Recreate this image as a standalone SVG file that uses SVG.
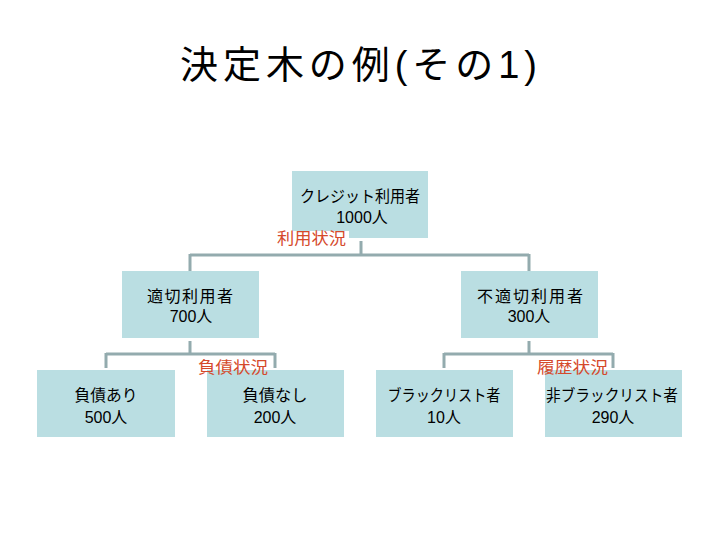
<svg xmlns="http://www.w3.org/2000/svg" width="720" height="540" viewBox="0 0 720 540">
<style>
text{font-family:"Liberation Sans","Noto Sans CJK JP",sans-serif;fill:#000}
.box{fill:#BADEE2}
.t{font-size:16px;text-anchor:middle}
.lbl{font-size:16px;fill:#D5492B}
.title{font-size:38px}
.c{fill:none;stroke:#93ABAE;stroke-width:3}
</style>
<rect width="720" height="540" fill="#fff"/>
<text class="title" x="180" y="78" textLength="357" lengthAdjust="spacing">決定木の例(その1)</text>
<g id="connectors">
<path class="c" d="M361 241V255M190 255H529M190 254V271M529 254V271"/>
<path class="c" d="M190 341V354M106 354H275M106 353V368M275 353V368"/>
<path class="c" d="M529 341V354M444 354H613M444 353V368M613 353V368"/>
</g>
<g id="n-root">
<rect class="box" x="292" y="171" width="136" height="67"/>
<text class="t" x="360" y="202" textLength="120" lengthAdjust="spacingAndGlyphs">クレジット利用者</text>
<text class="t" x="362" y="223">1000人</text>
</g>
<g id="l-root">
<rect x="275" y="231" width="74" height="16" fill="#fff"/>
<text class="lbl" x="277" y="244" textLength="69" lengthAdjust="spacingAndGlyphs">利用状況</text>
</g>
<g id="n-good">
<rect class="box" x="122" y="271" width="137" height="67"/>
<text class="t" x="190" y="302" textLength="86" lengthAdjust="spacing">適切利用者</text>
<text class="t" x="191" y="322">700人</text>
</g>
<g id="n-bad">
<rect class="box" x="461" y="271" width="137" height="67"/>
<text class="t" x="530" y="302" textLength="106" lengthAdjust="spacing">不適切利用者</text>
<text class="t" x="529" y="322">300人</text>
</g>
<g id="n-debt">
<rect class="box" x="37" y="370" width="138" height="67"/>
<text class="t" x="106" y="401" textLength="63" lengthAdjust="spacingAndGlyphs">負債あり</text>
<text class="t" x="106" y="423">500人</text>
</g>
<g id="n-nodebt">
<rect class="box" x="207" y="370" width="137" height="67"/>
<text class="t" x="275" y="401" textLength="65" lengthAdjust="spacingAndGlyphs">負債なし</text>
<text class="t" x="275" y="423">200人</text>
</g>
<g id="n-black">
<rect class="box" x="376" y="370" width="137" height="67"/>
<text class="t" x="444" y="401" textLength="113" lengthAdjust="spacingAndGlyphs">ブラックリスト者</text>
<text class="t" x="444" y="423">10人</text>
</g>
<g id="n-nonblack">
<rect class="box" x="545" y="370" width="137" height="67"/>
<text class="t" x="612" y="401" textLength="132" lengthAdjust="spacingAndGlyphs">非ブラックリスト者</text>
<text class="t" x="613" y="423">290人</text>
</g>
<g id="l-debt">
<text class="lbl" x="198" y="373" textLength="70" lengthAdjust="spacingAndGlyphs">負債状況</text>
</g>
<g id="l-hist">
<text class="lbl" x="537" y="373" textLength="71" lengthAdjust="spacingAndGlyphs">履歴状況</text>
</g>
</svg>
